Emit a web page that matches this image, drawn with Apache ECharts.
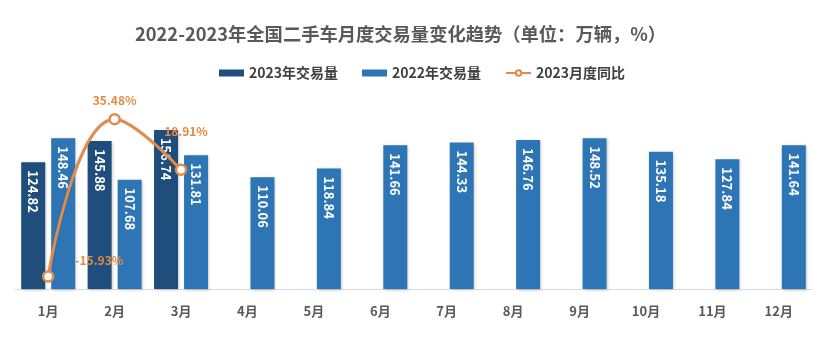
<!DOCTYPE html>
<html>
<head>
<meta charset="utf-8">
<script src="https://cdn.jsdelivr.net/npm/echarts@6/dist/echarts.min.js"></script>
<style>
  html, body { margin: 0; padding: 0; background: #ffffff; }
  #chart { width: 825px; height: 337px; }
</style>
</head>
<body>
<div id="chart"></div>
<script>
// Monthly used-car transaction volume (10k units) and 2023 year-on-year change (%)
const months = ['1月', '2月', '3月', '4月', '5月', '6月', '7月', '8月', '9月', '10月', '11月', '12月'];
const volume2023 = [124.82, 145.88, 156.74, null, null, null, null, null, null, null, null, null];
const volume2022 = [148.46, 107.68, 131.81, 110.06, 118.84, 141.66, 144.33, 146.76, 148.52, 135.18, 127.84, 141.64];
const yoy2023 = [-15.93, 35.48, 18.91, null, null, null, null, null, null, null, null, null];

const FONT = '"Noto Sans CJK SC", "Microsoft YaHei", sans-serif';
const DARK_BLUE = '#1F4E7C';
const MID_BLUE = '#2E75B6';
const ORANGE = '#E08A4C';

// Where each percentage label sits relative to its point
const yoyLabelOffsets = [[51, -16], [0, -19], [5, -38]];

const chart = echarts.init(document.getElementById('chart'));

const barLabel = {
  show: true,
  position: 'insideTop',
  distance: 8,
  rotate: -90,
  align: 'left',
  verticalAlign: 'middle',
  color: '#ffffff',
  fontFamily: FONT,
  fontWeight: 'bold',
  fontSize: 13,
  formatter: p => p.value.toFixed(2)
};

const barShadow = {
  shadowColor: 'rgba(0,0,0,0.25)',
  shadowBlur: 3,
  shadowOffsetX: 1,
  shadowOffsetY: 1
};

chart.setOption({
  backgroundColor: '#ffffff',
  animation: false,
  title: {
    text: '2022-2023年全国二手车月度交易量变化趋势（单位：万辆，%）',
    left: 130,
    top: 20,
    textStyle: {
      fontFamily: FONT,
      fontSize: 18.3,
      fontWeight: 'bold',
      color: '#595959'
    }
  },
  legend: {
    top: 61,
    left: 214,
    itemWidth: 25,
    itemHeight: 7,
    itemGap: 24,
    textStyle: {
      fontFamily: FONT,
      fontSize: 14,
      fontWeight: 'bold',
      color: '#404040'
    },
    data: [
      { name: '2023年交易量', icon: 'rect' },
      { name: '2022年交易量', icon: 'rect' },
      { name: '2023月度同比' }
    ]
  },
  grid: {
    left: 15,
    right: 13,
    top: 86,
    bottom: 48,
    containLabel: false
  },
  xAxis: {
    type: 'category',
    data: months,
    axisTick: { show: false },
    axisLine: { lineStyle: { color: '#D9D9D9', width: 1 } },
    axisLabel: {
      margin: 16,
      fontFamily: FONT,
      fontSize: 13,
      fontWeight: 'bold',
      color: '#595959'
    }
  },
  yAxis: [
    { type: 'value', min: 0, max: 200, show: false, splitLine: { show: false } },
    { type: 'value', min: -20, max: 46.3, show: false, splitLine: { show: false } }
  ],
  series: [
    {
      name: '2023年交易量',
      type: 'bar',
      data: volume2023,
      barWidth: 24,
      barGap: '25%',
      itemStyle: Object.assign({ color: DARK_BLUE }, barShadow),
      label: barLabel
    },
    {
      name: '2022年交易量',
      type: 'bar',
      data: volume2022,
      barWidth: 24,
      barGap: '25%',
      itemStyle: Object.assign({ color: MID_BLUE }, barShadow),
      label: barLabel
    },
    {
      name: '2023月度同比',
      type: 'line',
      yAxisIndex: 1,
      z: 5,
      smooth: 0.45,
      data: yoy2023.map((v, i) => ({
        value: v,
        label: yoyLabelOffsets[i] ? { offset: yoyLabelOffsets[i] } : undefined
      })),
      symbol: 'circle',
      symbolSize: 10,
      lineStyle: { color: ORANGE, width: 3, shadowColor: 'rgba(0,0,0,0.15)', shadowBlur: 2 },
      itemStyle: { color: '#FFFFFF', borderColor: ORANGE, borderWidth: 2.5 },
      label: {
        show: true,
        position: 'inside',
        color: '#E8893F',
        fontFamily: FONT,
        fontSize: 12,
        fontWeight: 'bold',
        formatter: p => p.value.toFixed(2) + '%'
      }
    }
  ]
});
</script>
</body>
</html>
